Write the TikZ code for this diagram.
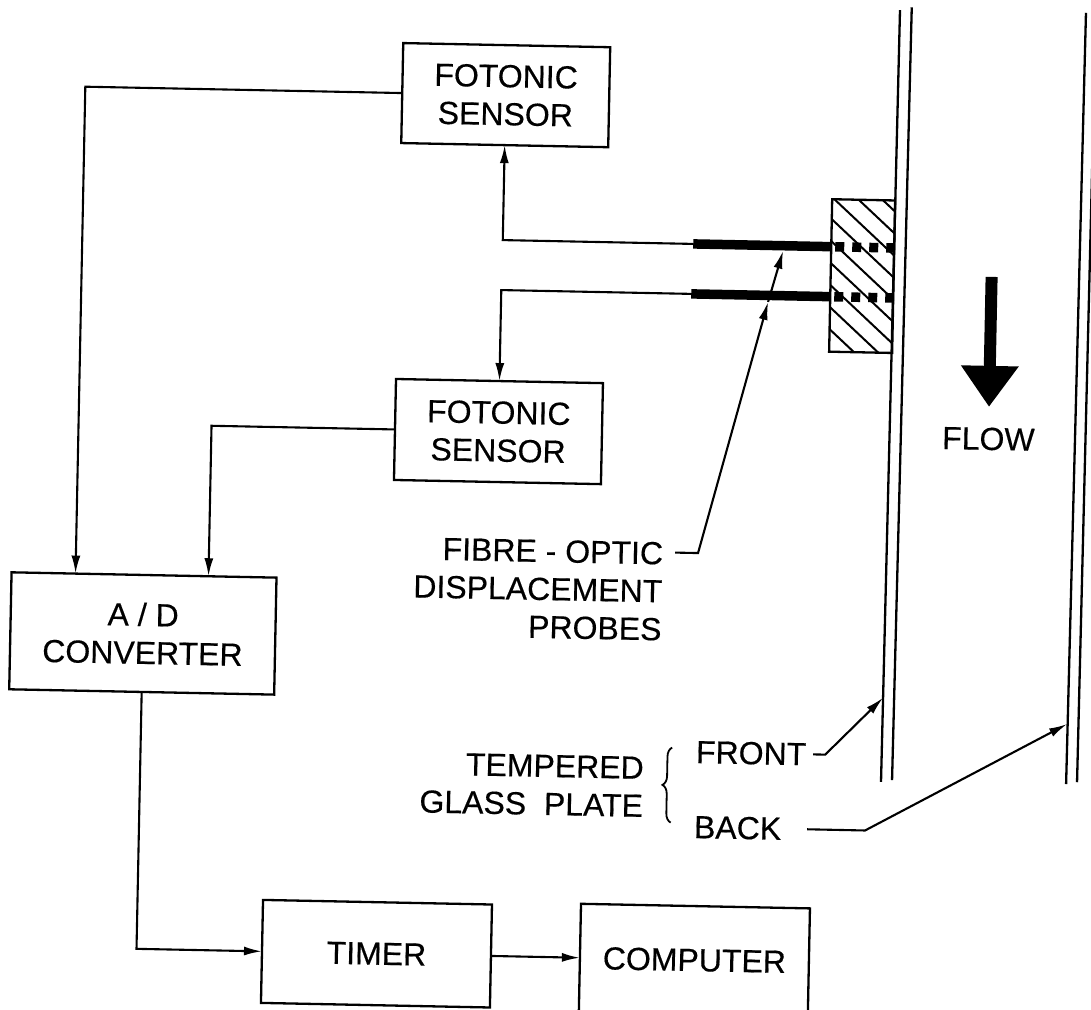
\documentclass[tikz,border=0pt]{standalone}
\usepackage{fontspec}
\setmainfont{Liberation Sans}[FakeBold=0.35]
\usetikzlibrary{arrows.meta,decorations.pathreplacing}
\tikzset{
  box/.style={draw, line width=2.3pt, align=center, inner sep=0pt, outer sep=0pt},
  conn/.style={line width=2.1pt, -{Latex[length=18pt,width=9pt]}},
  label/.style={align=right, inner sep=0pt, outer sep=0pt},
  probe/.style={line width=9.5pt},
  plate/.style={line width=2.3pt}
}
\begin{document}
\begin{tikzpicture}[x=1pt, y=-1pt, font=\fontsize{32}{38}\selectfont]
  \useasboundingbox (0,0) rectangle (1091,1009);
  \begin{scope}[rotate around={-1.15:(545,505)}, transform shape]
    % Blocks
    \node[box, minimum width=207pt, minimum height=100pt] (sensorA) at (497.5,96) {FOTONIC\\SENSOR};
    \node[box, minimum width=207pt, minimum height=101pt] (sensorB) at (497,432.5) {FOTONIC\\SENSOR};
    \node[box, minimum width=265pt, minimum height=117pt] (adc) at (145.5,641.5) {A / D\\CONVERTER};
    \node[box, minimum width=229pt, minimum height=103pt] (timer) at (385.5,957) {TIMER};
    \node[box, minimum width=229pt, minimum height=108pt] (computer) at (703.5,957) {COMPUTER};

    % Probe holder
    \node[box, minimum width=63pt, minimum height=152.5pt] (holder) at (857.5,269.75) {};
    \begin{scope}
      \clip (holder.north west) rectangle (holder.south east);
      \foreach \k in {0,...,9}
        \draw[line width=2pt] (826,147.5+22*\k) -- (889,204.5+22*\k);
    \end{scope}

    % Probes
    \coordinate (probeA) at (688,241);
    \coordinate (probeB) at (687,291);
    \coordinate (holderA) at (holder.west |- probeA);
    \coordinate (holderB) at (holder.west |- probeB);
    \draw[probe] (probeA) -- (holderA);
    \draw[probe] (probeB) -- (holderB);
    \draw[probe, dash pattern=on 9pt off 8pt] (830,241) -- (889,241);
    \draw[probe, dash pattern=on 9pt off 8pt] (830,291) -- (889,291);

    % Glass plates
    \draw[plate] (890,3) -- (886.5,775);
    \draw[plate] (901.7,0) -- (897.5,773);
    \draw[plate] (1076,2) -- (1071.6,773.5);
    \draw[plate] (1086,0) -- (1082.5,771.5);

    % Flow
    \coordinate (flowtop) at (987,268);
    \coordinate (flowtip) at (987,398);
    \draw[line width=12pt, -{Triangle[width=55pt,length=41pt]}] (flowtop) -- (flowtip);
    \node (flow) at (987,430) {FLOW};

    % Connections
    \coordinate (adcA) at (77,583);
    \coordinate (adcB) at (210,583);
    \draw[conn] (sensorA.west) -| (adcA);
    \draw[conn] (sensorB.west) -| (adcB);
    \draw[conn] (probeA) -| (sensorA.south);
    \draw[conn] (probeB) -| (sensorB.north);
    \draw[conn] (adc.south) |- (timer.west);
    \draw[conn] (timer.east) -- (computer.west);

    % Labels
    \node[label, anchor=east] (fibre) at (664,589) {FIBRE - OPTIC\\DISPLACEMENT\\PROBES};
    \coordinate (fibreL) at (676,550);
    \coordinate (fibreK) at (699,550);
    \coordinate (tipA) at (778,246);
    \coordinate (tipB) at (764,297.5);
    \draw[conn] (fibreL) -- (fibreK) -- (tipB);
    \draw[conn] (tipB) -- (tipA);

    \node[label, anchor=east] (glass) at (649,785) {TEMPERED\\GLASS\ \ PLATE};
    \draw[line width=1.8pt, decorate, decoration={brace, amplitude=9pt}] (677,820) -- (677,745);
    \node[label, anchor=west] (front) at (701,749) {FRONT};
    \node[label, anchor=west] (back) at (700.5,824) {BACK};
    \coordinate (tipFront) at (886.9,691);
    \coordinate (tipBack) at (1071.4,713.6);
    \draw[conn] ([xshift=7pt]front.east) -- ++(12,0) -- (tipFront);
    \draw[conn] ([xshift=26pt]back.east) -- (871.5,824) -- (tipBack);
  \end{scope}
\end{tikzpicture}
\end{document}
